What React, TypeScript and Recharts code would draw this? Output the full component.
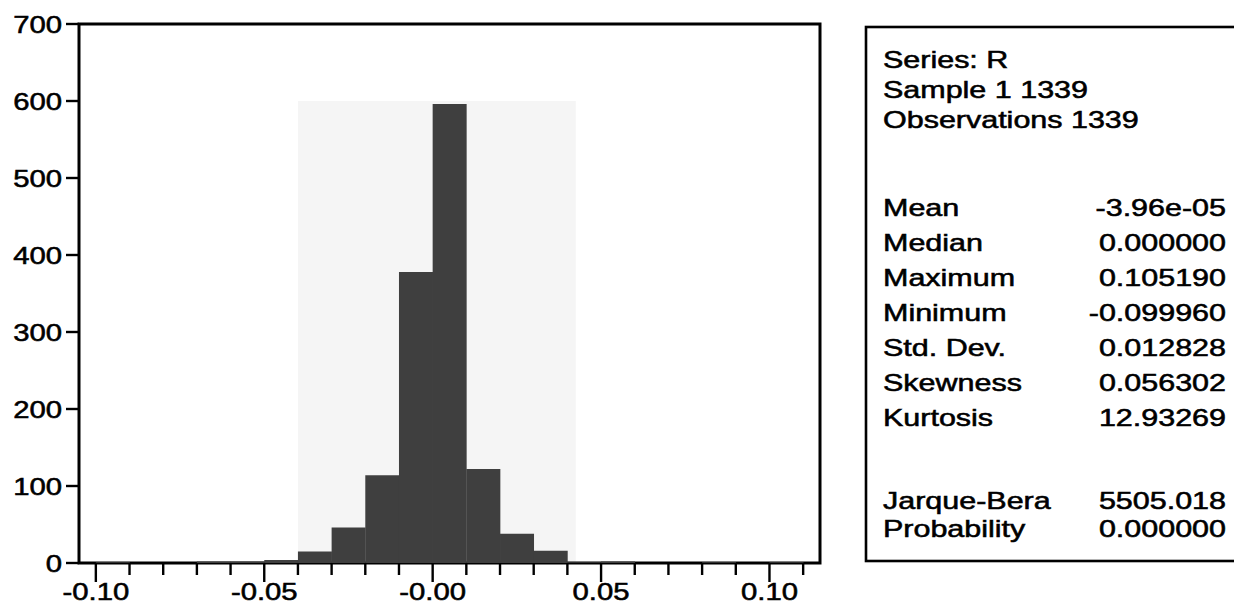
import React from 'react';
import { ComposedChart, Bar, XAxis, YAxis, ReferenceArea } from 'recharts';

// ---- data ----
const binCenters = [-0.095, -0.085, -0.075, -0.065, -0.055, -0.045, -0.035, -0.025, -0.015, -0.005, 0.005, 0.015, 0.025, 0.035, 0.045, 0.055, 0.065, 0.075, 0.085, 0.095, 0.105];
const binCounts = [1, 0, 0, 2, 2, 4, 15, 46, 114, 378, 596, 122, 38, 16, 1, 2, 0, 0, 1, 0, 1];

const xTickValues = [-0.10, -0.09, -0.08, -0.07, -0.06, -0.05, -0.04, -0.03, -0.02, -0.01, 0, 0.01, 0.02, 0.03, 0.04, 0.05, 0.06, 0.07, 0.08, 0.09, 0.10, 0.11];
const xLabelValues = [-0.10, -0.05, 0, 0.05, 0.10];
const xLabelTexts = ['-0.10', '-0.05', '-0.00', '0.05', '0.10'];
const yTickValues = [0, 100, 200, 300, 400, 500, 600, 700];

const statsHeader = ['Series: R', 'Sample 1 1339', 'Observations 1339'];
const statNames = ['Mean', 'Median', 'Maximum', 'Minimum', 'Std. Dev.', 'Skewness', 'Kurtosis'];
const statValues = ['-3.96e-05', '0.000000', '0.105190', '-0.099960', '0.012828', '0.056302', '12.93269'];
const testNames = ['Jarque-Bera', 'Probability'];
const testValues = ['5505.018', '0.000000'];

const data = binCenters.map((x, i) => ({ x, count: binCounts[i] }));

const FONT = '"Liberation Sans", Arial, Helvetica, sans-serif';
const TICK_SCALE = 1.22;
const BOX_SCALE = 1.27;
const TEXT_STROKE = 0.55;

const XTick = (props: any) => {
  const { x, y, payload } = props;
  const idx = xLabelValues.findIndex((v) => Math.abs(v - payload.value) < 1e-9);
  const major = idx >= 0;
  return (
    <g>
      <line x1={x} x2={x} y1={y} y2={y + (major ? 19 : 12)} stroke="#000" strokeWidth={2.4} />
      {major && (
        <text
          transform={`translate(${x},${y + 37}) scale(${TICK_SCALE},1)`}
          textAnchor="middle"
          fontSize={24}
          fontFamily={FONT}
          fill="#000"
          stroke="#000"
          strokeWidth={TEXT_STROKE}
        >
          {xLabelTexts[idx]}
        </text>
      )}
    </g>
  );
};

const YTick = (props: any) => {
  const { x, y, payload } = props;
  return (
    <g>
      <line x1={x - 13} x2={x} y1={y} y2={y} stroke="#000" strokeWidth={2.4} />
      <text
        transform={`translate(${x - 17},${y + 8.5}) scale(${TICK_SCALE},1)`}
        textAnchor="end"
        fontSize={24}
        fontFamily={FONT}
        fill="#000"
        stroke="#000"
        strokeWidth={TEXT_STROKE}
      >
        {payload.value}
      </text>
    </g>
  );
};

const StatsBox = () => {
  const left = 866;
  const top = 27;
  const bottom = 561;
  const textLeft = 883;
  const valueRight = 1226;
  const rows: { label: string; value?: string; y: number }[] = [];
  statsHeader.forEach((t, i) => rows.push({ label: t, y: 68 + i * 30 }));
  statNames.forEach((t, i) => rows.push({ label: t, value: statValues[i], y: 216 + i * 35 }));
  testNames.forEach((t, i) => rows.push({ label: t, value: testValues[i], y: 509 + i * 28 }));
  return (
    <svg width={1234} height={612} style={{ position: 'absolute', left: 0, top: 0, pointerEvents: 'none' }}>
      <rect x={left} y={top} width={1234 - left + 20} height={bottom - top} fill="none" stroke="#000" strokeWidth={2.6} />
      {rows.map((r, i) => (
        <g key={i}>
          <text
            transform={`translate(${textLeft},${r.y}) scale(${BOX_SCALE},1)`}
            fontSize={24}
            fontFamily={FONT}
            fill="#000"
            stroke="#000"
            strokeWidth={TEXT_STROKE}
          >
            {r.label}
          </text>
          {r.value !== undefined && (
            <text
              transform={`translate(${valueRight},${r.y}) scale(${BOX_SCALE},1)`}
              textAnchor="end"
              fontSize={24}
              fontFamily={FONT}
              fill="#000"
              stroke="#000"
              strokeWidth={TEXT_STROKE}
            >
              {r.value}
            </text>
          )}
        </g>
      ))}
    </svg>
  );
};

export default function App() {
  return (
    <div style={{ position: 'absolute', left: 0, top: 0, width: 1234, height: 612, background: '#fff' }}>
      <ComposedChart
        width={1234}
        height={612}
        data={data}
        margin={{ top: 24, right: 414, bottom: 9, left: 0 }}
        barCategoryGap={0}
        barGap={0}
      >
        <ReferenceArea x1={-0.04} x2={0.0425} y1={0} y2={600} fill="#f5f5f5" fillOpacity={1} stroke="none" />
        <XAxis
          type="number"
          dataKey="x"
          domain={[-0.105, 0.115]}
          ticks={xTickValues}
          interval={0}
          height={40}
          tickSize={0}
          tickMargin={0}
          tickLine={false}
          axisLine={false}
          tick={<XTick />}
          allowDataOverflow
        />
        <YAxis
          type="number"
          domain={[0, 700]}
          ticks={yTickValues}
          interval={0}
          width={79}
          tickSize={0}
          tickMargin={0}
          tickLine={false}
          axisLine={false}
          tick={<YTick />}
          allowDataOverflow
        />
        <Bar dataKey="count" fill="#3f3f3f" isAnimationActive={false} />
        <ReferenceArea x1={-0.105} x2={0.115} y1={0} y2={700} fill="none" fillOpacity={0} stroke="#000" strokeWidth={3} />
      </ComposedChart>
      <StatsBox />
    </div>
  );
}
